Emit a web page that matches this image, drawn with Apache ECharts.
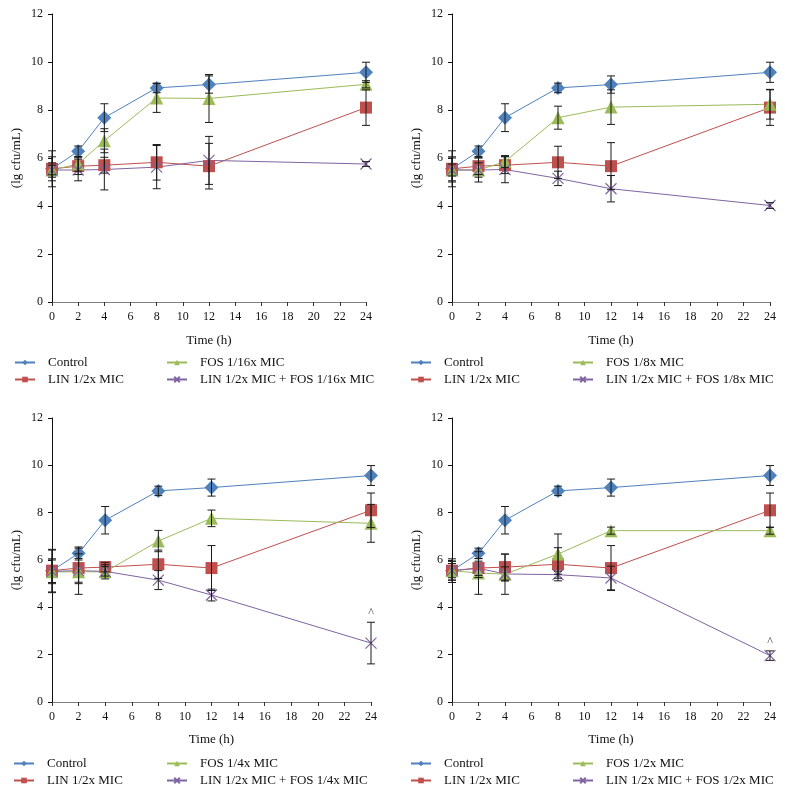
<!DOCTYPE html>
<html>
<head>
<meta charset="utf-8">
<script src="https://cdn.jsdelivr.net/npm/echarts@6/dist/echarts.min.js"></script>
<style>
html,body{margin:0;padding:0;background:#fff;}
#chart{width:785px;height:793px;}
</style>
</head>
<body>
<div id="chart"></div>
<script>
// ---------- data ----------
const times = [0, 2, 4, 8, 12, 24];
const xTicks = [0, 2, 4, 6, 8, 10, 12, 14, 16, 18, 20, 22, 24];
const yTicks = [0, 2, 4, 6, 8, 10, 12];

const controlVals = [5.55, 6.28, 7.68, 8.92, 9.06, 9.57];
const controlErr  = [0.5, 0.22, 0.58, 0.2, 0.36, 0.42];

const linVals = [5.55, 5.66, 5.7, 5.82, 5.66, 8.1];
const linErr1 = [0.75, 0.35, 0.33, 0.74, 0.95, 0.74];
const linErr2 = [0.75, 0.35, 0.35, 0.67, 0.98, 0.74];
const linErr3 = [0.9, 0.6, 0.2, 0.6, 0.95, 0.73];
const linErr4 = [0.4, 0.4, 0.55, 0.7, 0.95, 0.73];

const fosNames = ['FOS 1/16x MIC', 'FOS 1/8x MIC', 'FOS 1/4x MIC', 'FOS 1/2x MIC'];
const comboNames = ['LIN 1/2x MIC + FOS 1/16x MIC', 'LIN 1/2x MIC + FOS 1/8x MIC', 'LIN 1/2x MIC + FOS 1/4x MIC', 'LIN 1/2x MIC + FOS 1/2x MIC'];

const fosVals1 = [5.5, 5.75, 6.72, 8.5, 8.48, 9.07];
const fosErr1  = [0.2, 0.3, 0.5, 0.6, 1.0, 0.15];
const fosVals2 = [5.5, 5.5, 5.85, 7.68, 8.12, 8.24];
const fosErr2  = [0.25, 0.3, 0.25, 0.48, 0.72, 0.62];
const fosVals3 = [5.5, 5.5, 5.5, 6.8, 7.76, 7.55];
const fosErr3  = [0.5, 0.5, 0.3, 0.45, 0.35, 0.8];
const fosVals4 = [5.55, 5.45, 5.4, 6.25, 7.24, 7.24];
const fosErr4  = [0.3, 0.9, 0.85, 0.85, 0.15, 0.15];

const comboVals1 = [5.5, 5.5, 5.52, 5.62, 5.9, 5.75];
const comboErr1  = [0.3, 0.45, 0.85, 0.9, 1.0, 0.1];
const comboVals2 = [5.5, 5.5, 5.52, 5.15, 4.72, 4.02];
const comboErr2  = [0.5, 0.5, 0.55, 0.3, 0.55, 0.12];
const comboVals3 = [5.52, 5.55, 5.52, 5.15, 4.52, 2.49];
const comboErr3  = [0.9, 1.0, 0.2, 0.4, 0.25, 0.88];
const comboVals4 = [5.55, 5.65, 5.41, 5.38, 5.24, 1.96];
const comboErr4  = [0.4, 0.3, 0.3, 0.15, 0.5, 0.2];

const caretPanels = [2, 3];
const caretPoints = [[24, 3.75], [24, 2.55]];

// ---------- layout / styles ----------
const FONT = 'Liberation Serif';
const C_BLUE = '#4F81BD', C_RED = '#C0504D', C_GREEN = '#9BBB59', C_PURPLE = '#8064A2';
const grids = [
  {left: 52, top: 14, width: 314, height: 288},
  {left: 452, top: 14, width: 318, height: 288},
  {left: 52, top: 418, width: 319, height: 284},
  {left: 452, top: 418, width: 318, height: 284}
];
const xNameGaps = [32, 32, 31, 31];
const legendPos = [
  {c1: 14, c2: 166, top: 354},
  {c1: 410, c2: 572, top: 354},
  {c1: 13, c2: 166, top: 755},
  {c1: 410, c2: 572, top: 755}
];
const CROSS = 'path://M0,0L10,10M10,0L0,10';

const fosValsAll = [fosVals1, fosVals2, fosVals3, fosVals4];
const fosErrAll = [fosErr1, fosErr2, fosErr3, fosErr4];
const comboValsAll = [comboVals1, comboVals2, comboVals3, comboVals4];
const comboErrAll = [comboErr1, comboErr2, comboErr3, comboErr4];
const linErrAll = [linErr1, linErr2, linErr3, linErr4];

function pts(vals) { return times.map((t, i) => [t, vals[i]]); }
function errPts(vals, errs) { return times.map((t, i) => [t, vals[i], errs[i]]); }

function errorRender(params, api) {
  const x = api.value(0), y = api.value(1), e = api.value(2);
  const top = api.coord([x, y + e]);
  const bot = api.coord([x, y - e]);
  const w = 4;
  const st = {stroke: '#1a1a1a', lineWidth: 1};
  return {
    type: 'group',
    children: [
      {type: 'line', shape: {x1: top[0], y1: top[1], x2: bot[0], y2: bot[1]}, style: st},
      {type: 'line', shape: {x1: top[0] - w, y1: top[1], x2: top[0] + w, y2: top[1]}, style: st},
      {type: 'line', shape: {x1: bot[0] - w, y1: bot[1], x2: bot[0] + w, y2: bot[1]}, style: st}
    ]
  };
}

const xAxes = [], yAxes = [], legends = [], series = [];
for (let p = 0; p < 4; p++) {
  xAxes.push({
    type: 'value', gridIndex: p, min: xTicks[0], max: xTicks[xTicks.length - 1], interval: 2,
    name: 'Time (h)', nameLocation: 'middle', nameGap: xNameGaps[p],
    nameTextStyle: {fontFamily: FONT, fontSize: 13, color: '#111'},
    axisLine: {lineStyle: {color: '#7f7f7f', width: 1}},
    axisTick: {length: 4, lineStyle: {color: '#333'}},
    axisLabel: {fontFamily: FONT, fontSize: 12, color: '#111', margin: 9},
    splitLine: {show: false}
  });
  yAxes.push({
    type: 'value', gridIndex: p, min: yTicks[0], max: yTicks[yTicks.length - 1], interval: 2,
    name: '(lg cfu/mL)', nameLocation: 'middle', nameGap: 29,
    nameTextStyle: {fontFamily: FONT, fontSize: 13, color: '#111'},
    axisLine: {show: true, lineStyle: {color: '#111', width: 1}},
    axisTick: {show: true, length: 4, lineStyle: {color: '#111'}},
    axisLabel: {fontFamily: FONT, fontSize: 12, color: '#111', margin: 9},
    splitLine: {show: false}
  });
  const lp = legendPos[p];
  const legCommon = {
    orient: 'vertical', top: lp.top, padding: 0, itemWidth: 20, itemHeight: 7, itemGap: 0,
    textStyle: {fontFamily: FONT, fontSize: 13, color: '#111', lineHeight: 17, padding: [0, 0, 0, 8]}
  };
  legends.push(Object.assign({left: lp.c1, data: ['Control', 'LIN 1/2x MIC']}, legCommon));
  legends.push(Object.assign({left: lp.c2, data: [fosNames[p], comboNames[p]]}, legCommon));

  const lineBase = {type: 'line', xAxisIndex: p, yAxisIndex: p, showSymbol: true, z: 3};
  series.push(Object.assign({}, lineBase, {
    name: 'Control', data: pts(controlVals), symbol: 'diamond', symbolSize: 14,
    lineStyle: {color: C_BLUE, width: 1}, itemStyle: {color: C_BLUE}
  }));
  series.push(Object.assign({}, lineBase, {
    name: 'LIN 1/2x MIC', data: pts(linVals), symbol: 'rect', symbolSize: 12,
    lineStyle: {color: C_RED, width: 1}, itemStyle: {color: C_RED}
  }));
  series.push(Object.assign({}, lineBase, {
    name: fosNames[p], data: pts(fosValsAll[p]), symbol: 'triangle', symbolSize: 13,
    lineStyle: {color: C_GREEN, width: 1}, itemStyle: {color: C_GREEN}
  }));
  series.push(Object.assign({}, lineBase, {
    name: comboNames[p], data: pts(comboValsAll[p]), symbol: CROSS, symbolSize: 11,
    lineStyle: {color: C_PURPLE, width: 1},
    itemStyle: {color: 'rgba(0,0,0,0)', borderColor: C_PURPLE, borderWidth: 1.2}
  }));
  const errSets = [[controlVals, controlErr], [linVals, linErrAll[p]], [fosValsAll[p], fosErrAll[p]], [comboValsAll[p], comboErrAll[p]]];
  errSets.forEach((s, k) => {
    series.push({
      type: 'custom', name: 'err' + p + '_' + k, xAxisIndex: p, yAxisIndex: p, z: 4,
      renderItem: errorRender, data: errPts(s[0], s[1]), silent: true
    });
  });
}
caretPanels.forEach((p, i) => {
  series.push({
    type: 'scatter', name: 'caret' + p, xAxisIndex: p, yAxisIndex: p, z: 5,
    symbolSize: 1, itemStyle: {color: 'rgba(0,0,0,0)'},
    label: {show: true, position: 'inside', formatter: '^', fontFamily: FONT, fontSize: 12, color: '#111'},
    data: [caretPoints[i]], silent: true
  });
});

const chart = echarts.init(document.getElementById('chart'), null, {renderer: 'canvas'});
chart.setOption({
  animation: false,
  backgroundColor: '#fff',
  grid: grids,
  xAxis: xAxes,
  yAxis: yAxes,
  legend: legends,
  series: series
});
</script>
</body>
</html>
